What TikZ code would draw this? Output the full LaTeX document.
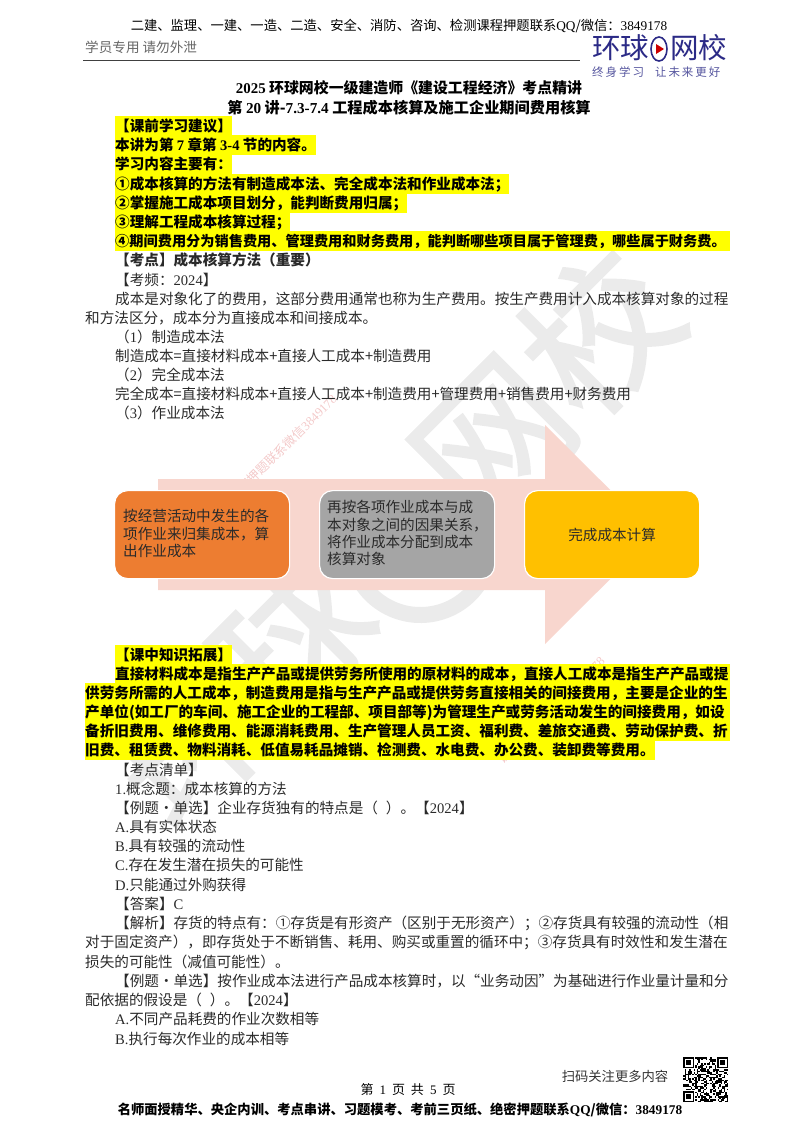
\documentclass[tikz,border=0pt]{standalone}
\usepackage{fontspec}
\setmainfont{Noto Sans CJK SC}
\newfontfamily\latinf{Liberation Serif}
\newfontfamily\markfont[FakeBold=1.6]{Noto Sans CJK SC}
\newfontfamily\slogfont[LetterSpace=17]{Noto Sans CJK SC}
\newcommand{\la}[1]{{\latinf #1}}
\newcommand{\fitpar}{\leftskip=0pt\rightskip=0pt\parfillskip=0pt\relax}
\XeTeXlinebreaklocale "zh"
\XeTeXlinebreakskip=0pt plus 3pt minus .3pt
\usetikzlibrary{arrows.meta,positioning,calc}
\definecolor{hlyellow}{HTML}{FFFF00}
\definecolor{wmgray}{HTML}{EBEBEB}
\definecolor{wmred}{HTML}{F3C9C9}
\definecolor{arrowpink}{HTML}{F8D6CE}
\definecolor{boxorange}{HTML}{ED7D31}
\definecolor{boxgray}{HTML}{A5A5A5}
\definecolor{boxgold}{HTML}{FFC000}
\definecolor{logoblue}{HTML}{2B2A86}
\definecolor{inkdark}{HTML}{2A2A2A}
\tikzset{
    lin/.style = {anchor=west, inner sep=0pt, minimum height=19.2pt,
        text height=12pt, text depth=2pt, text=inkdark, font=\fontsize{14.6}{17}\selectfont},
    hl/.style = {lin, fill=hlyellow, text=black, font=\fontsize{14.6}{17}\selectfont\bfseries},
    stepbox/.style = {draw=white, line width=1.2pt, rounded corners=13pt, inner sep=0pt,
        minimum width=175pt, minimum height=88pt, text=inkdark,
        font=\fontsize{14.6}{18}\selectfont},
    head/.style = {inner sep=0pt, font=\fontsize{13.3}{16}\selectfont, text=black},
    titletext/.style = {inner sep=0pt, text=black, font=\fontsize{15.2}{18}\selectfont\bfseries},
    markwm/.style = {inner sep=0pt, rotate=45, text=wmred, font=\fontsize{12.6}{14}\selectfont},
    bigwm/.style = {inner sep=0pt, rotate=45, text=wmgray, font=\fontsize{150}{155}\markfont},
    logotext/.style = {inner sep=0pt, anchor=west, text=logoblue, font=\fontsize{28.5}{30}\selectfont}
}
\begin{document}
\begin{tikzpicture}[x=1pt,y=-1pt]
    \useasboundingbox (0,0) rectangle (800,1132);
    % watermarks
    \node[bigwm] (wmL) at (240,690) {环球};
    \draw[wmgray, line width=16pt, line cap=round] (481,580) arc[start angle=30, end angle=200, radius=70];
    \node[bigwm] (wmR) at (545,385) {网校};
    \node[markwm] (wmA) at (283,448) {课程押题联系微信\la{3849178}};
    \node[markwm] (wmB) at (551,710) {课程押题联系微信\la{3849178}};
    % header
    \node[head] (top) at (399,26) {二建、监理、一建、一造、二造、安全、消防、咨询、检测课程押题联系\la{QQ}/微信：\la{3849178}};
    \node[head, anchor=west, text=black!60, font=\fontsize{13.6}{16}\selectfont] (staff) at (85,47) {学员专用 请勿外泄};
    \draw[black!75, line width=.7pt] (83,60) -- (580,60);
    \node[logotext] (logoL) at (592,48) {环球};
    \draw[logoblue, line width=1.6pt] (659,49) ellipse (8 and 12);
    \fill[red!80!black] (656,44) -- (664,49) -- (656,54) -- cycle;
    \node[logotext] (logoR) at (670,48) {网校};
    \node[inner sep=0pt, anchor=west, text=logoblue!80, font=\fontsize{11.5}{13}\slogfont] (slogan) at (592,72) {终身学习\hspace{11pt}让未来更好};
    % title
    \node[titletext, font=\fontsize{14.9}{18}\selectfont\bfseries] (title) at (409,88) {\la{\bfseries 2025} 环球网校一级建造师《建设工程经济》考点精讲};
    \node[titletext] (sub) at (409,108) {第 \la{\bfseries 20} 讲-\la{\bfseries 7.3-7.4} 工程成本核算及施工企业期间费用核算};
    % study notes
    \node[hl] (n1) at (115,126) {【课前学习建议】};
    \node[hl] (n2) at (115,145) {本讲为第 \la{\bfseries 7} 章第 \la{\bfseries 3-4} 节的内容。};
    \node[hl] (n3) at (115,164) {学习内容主要有：};
    \node[hl] (n4) at (115,184) {①成本核算的方法有制造成本法、完全成本法和作业成本法；};
    \node[hl] (n5) at (115,203) {②掌握施工成本项目划分，能判断费用归属；};
    \node[hl] (n6) at (115,222) {③理解工程成本核算过程；};
    \node[hl, text width=615pt, font=\fontsize{14.2}{17}\selectfont\bfseries] (n7) at (115,241) {\fitpar ④期间费用分为销售费用、管理费用和财务费用，能判断哪些项目属于管理费，哪些属于财务费。};
    \node[lin, font=\fontsize{14.6}{17}\selectfont\bfseries] (p1) at (115,260) {【考点】成本核算方法（重要）};
    \node[lin] (p2) at (115,280) {【考频：\la{2024}】};
    \node[lin, text width=615pt] (p3) at (115,299) {\fitpar 成本是对象化了的费用，这部分费用通常也称为生产费用。按生产费用计入成本核算对象的过程};
    \node[lin] (p4) at (85,318) {和方法区分，成本分为直接成本和间接成本。};
    \node[lin] (p5) at (115,337) {（\la{1}）制造成本法};
    \node[lin] (p6) at (115,356) {制造成本=直接材料成本+直接人工成本+制造费用};
    \node[lin] (p7) at (115,375) {（\la{2}）完全成本法};
    \node[lin] (p8) at (115,394) {完全成本=直接材料成本+直接人工成本+制造费用+管理费用+销售费用+财务费用};
    \node[lin] (p9) at (115,413) {（\la{3}）作业成本法};
    % process arrow
    \fill[arrowpink] (158,479) -- (545,479) -- (545,425) -- (655,534.5) -- (545,644) -- (545,590) -- (158,590) -- cycle;
    \node[stepbox, fill=boxorange, anchor=north west] (costA) at (114,490) {};
    \node[stepbox, fill=boxgray, anchor=north west] (costB) at (319,490) {};
    \node[stepbox, fill=boxgold, anchor=north west] (costC) at (524,490) {完成成本计算};
    \node[lin, text width=158pt] (a1) at (123,516) {\fitpar 按经营活动中发生的各};
    \node[lin, text width=158pt] (a2) at (123,534) {\fitpar 项作业来归集成本，算};
    \node[lin] (a3) at (123,551) {出作业成本};
    \node[lin, text width=158pt] (b1) at (327,507) {\fitpar 再按各项作业成本与成};
    \node[lin, text width=164pt] (b2) at (327,525) {\fitpar 本对象之间的因果关系，};
    \node[lin, text width=158pt] (b3) at (327,542) {\fitpar 将作业成本分配到成本};
    \node[lin] (b4) at (327,559) {核算对象};
    % extension
    \node[hl] (e1) at (115,655) {【课中知识拓展】};
    \node[hl, text width=615pt] (e2) at (115,674) {\fitpar 直接材料成本是指生产产品或提供劳务所使用的原材料的成本，直接人工成本是指生产产品或提};
    \node[hl, text width=645pt] (e3) at (85,693) {\fitpar 供劳务所需的人工成本，制造费用是指与生产产品或提供劳务直接相关的间接费用，主要是企业的生};
    \node[hl, text width=645pt] (e4) at (85,712) {\fitpar 产单位(如工厂的车间、施工企业的工程部、项目部等)为管理生产或劳务活动发生的间接费用，如设};
    \node[hl, text width=645pt] (e5) at (85,731) {\fitpar 备折旧费用、维修费用、能源消耗费用、生产管理人员工资、福利费、差旅交通费、劳动保护费、折};
    \node[hl] (e6) at (85,750) {旧费、租赁费、物料消耗、低值易耗品摊销、检测费、水电费、办公费、装卸费等费用。};
    % exercises
    \node[lin] (q1) at (115,770) {【考点清单】};
    \node[lin] (q2) at (115,789) {\la{1.}概念题：成本核算的方法};
    \node[lin] (q3) at (115,808) {【例题·单选】企业存货独有的特点是（\hspace{8pt}）。【\la{2024}】};
    \node[lin] (q4) at (115,827) {\la{A.}具有实体状态};
    \node[lin] (q5) at (115,846) {\la{B.}具有较强的流动性};
    \node[lin] (q6) at (115,865) {\la{C.}存在发生潜在损失的可能性};
    \node[lin] (q7) at (115,885) {\la{D.}只能通过外购获得};
    \node[lin] (q8) at (115,904) {【答案】\la{C}};
    \node[lin, text width=615pt] (q9) at (115,923) {\fitpar 【解析】存货的特点有：①存货是有形资产（区别于无形资产）；②存货具有较强的流动性（相};
    \node[lin, text width=645pt] (q10) at (85,942) {\fitpar 对于固定资产），即存货处于不断销售、耗用、购买或重置的循环中；③存货具有时效性和发生潜在};
    \node[lin] (q11) at (85,962) {损失的可能性（减值可能性）。};
    \node[lin, text width=615pt] (q12) at (115,981) {\fitpar 【例题·单选】按作业成本法进行产品成本核算时，以“业务动因”为基础进行作业量计量和分};
    \node[lin] (q13) at (85,1000) {配依据的假设是（\hspace{8pt}）。【\la{2024}】};
    \node[lin] (q14) at (115,1019) {\la{A.}不同产品耗费的作业次数相等};
    \node[lin] (q15) at (115,1039) {\la{B.}执行每次作业的成本相等};
    % footer
    \node[head, text=black!80] (scan) at (615,1076) {扫码关注更多内容};
    \node[head, font=\fontsize{13}{15}\selectfont] (pageno) at (408,1090) {第\hspace{6pt}\la{1}\hspace{6pt}页\hspace{6pt}共\hspace{6pt}\la{5}\hspace{6pt}页};
    \node[head, font=\fontsize{13.3}{15}\selectfont\bfseries] (bottom) at (400,1110) {名师面授精华、央企内训、考点串讲、习题模考、考前三页纸、绝密押题联系\la{QQ}/微信：\la{3849178}};
    % qr code
    \pgfmathsetseed{2025}
    \foreach \i in {0,...,29} \foreach \j in {0,...,29} {
        \pgfmathparse{rnd<.5 ? 1 : 0}
        \ifdim\pgfmathresult pt>.5pt
            \fill[black] ({683+\i*1.5},{1057+\j*1.5}) rectangle ++(1.5,1.5);
        \fi
    }
    \foreach \qx/\qy in {683/1057,717/1057,683/1091} {
        \fill[white] (\qx-1,\qy-1) rectangle ++(13,13);
        \fill[black] (\qx,\qy) rectangle ++(11,11);
        \fill[white] (\qx+1.5,\qy+1.5) rectangle ++(8,8);
        \fill[black] (\qx+3,\qy+3) rectangle ++(5,5);
    }
\end{tikzpicture}
\end{document}
